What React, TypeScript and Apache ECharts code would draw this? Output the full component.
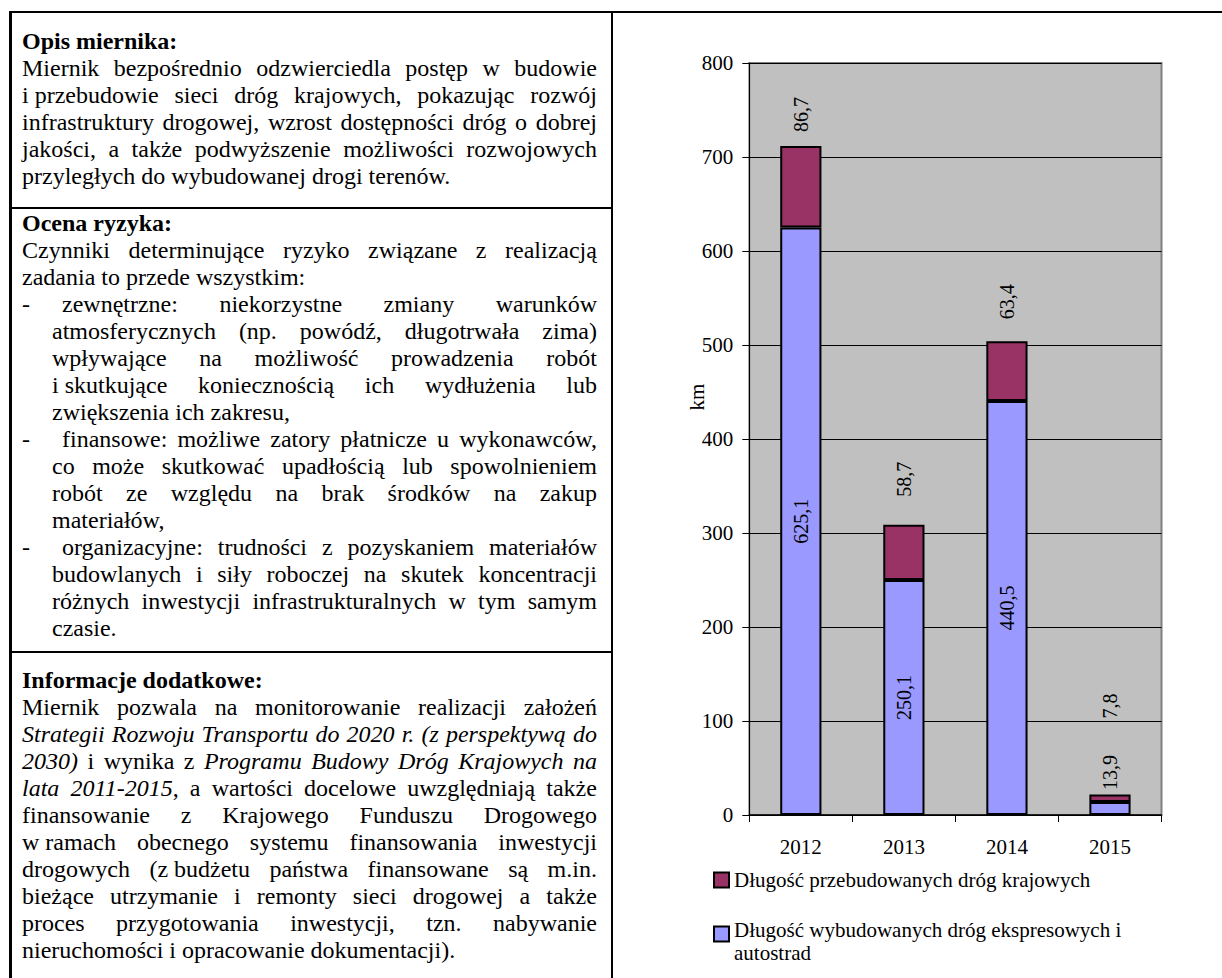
import React, { useEffect, useRef } from "react";
import * as echarts from "echarts";

// ---------- chart data ----------
const years = ["2012", "2013", "2014", "2015"];
const builtKm = [625.1, 250.1, 440.5, 13.9];
const rebuiltKm = [86.7, 58.7, 63.4, 7.8];
const rebuiltLabelGap = [14, 28, 22, 76];
const builtName = "Długość wybudowanych dróg ekspresowych i\nautostrad";
const rebuiltName = "Długość przebudowanych dróg krajowych";
const yMin = 0;
const yMax = 800;
const yStep = 100;
const axisTitle = "km";

// ---------- text data ----------
// each line: [x of text start, justified?, text, dash?]  (* toggles italics, ~ = fixed space)
type Line = [number, boolean, string, boolean?];
const sec1Title = "Opis miernika:";
const sec1Lines: Line[] = [
  [22, true, "Miernik bezpośrednio odzwierciedla postęp w budowie"],
  [22, true, "i~przebudowie sieci dróg krajowych, pokazując rozwój"],
  [22, true, "infrastruktury drogowej, wzrost dostępności dróg o dobrej"],
  [22, true, "jakości, a także podwyższenie możliwości rozwojowych"],
  [22, false, "przyległych do wybudowanej drogi terenów."],
];
const sec2Title = "Ocena ryzyka:";
const sec2Lines: Line[] = [
  [22, true, "Czynniki determinujące ryzyko związane z realizacją"],
  [22, false, "zadania to przede wszystkim:"],
  [62, true, "zewnętrzne: niekorzystne zmiany warunków", true],
  [52, true, "atmosferycznych (np. powódź, długotrwała zima)"],
  [52, true, "wpływające na możliwość prowadzenia robót"],
  [52, true, "i~skutkujące koniecznością ich wydłużenia lub"],
  [52, false, "zwiększenia ich zakresu,"],
  [62, true, "finansowe: możliwe zatory płatnicze u wykonawców,", true],
  [52, true, "co może skutkować upadłością lub spowolnieniem"],
  [52, true, "robót ze względu na brak środków na zakup"],
  [52, false, "materiałów,"],
  [62, true, "organizacyjne: trudności z pozyskaniem materiałów", true],
  [52, true, "budowlanych i siły roboczej na skutek koncentracji"],
  [52, true, "różnych inwestycji infrastrukturalnych w tym samym"],
  [52, false, "czasie."],
];
const sec3Title = "Informacje dodatkowe:";
const sec3Lines: Line[] = [
  [22, true, "Miernik pozwala na monitorowanie realizacji założeń"],
  [22, true, "*Strategii Rozwoju Transportu do 2020 r. (z perspektywą do*"],
  [22, true, "*2030)* i wynika z *Programu Budowy Dróg Krajowych na*"],
  [22, true, "*lata 2011-2015*, a wartości docelowe uwzględniają także"],
  [22, true, "finansowanie z Krajowego Funduszu Drogowego"],
  [22, true, "w~ramach obecnego systemu finansowania inwestycji"],
  [22, true, "drogowych (z~budżetu państwa finansowane są m.in."],
  [22, true, "bieżące utrzymanie i remonty sieci drogowej a także"],
  [22, true, "proces przygotowania inwestycji, tzn. nabywanie"],
  [22, false, "nieruchomości i opracowanie dokumentacji)."],
];

const FONT = '"Liberation Serif", "Times New Roman", serif';
const TEXT_RIGHT = 597;
const LINE_H = 27;
const DIVIDER_X = 611;

function renderWords(text: string) {
  let italic = false;
  return text.split(" ").map((w, wi) => {
    const parts = w.replace(/~/g, "\u00A0").split("*");
    const nodes: React.ReactNode[] = [];
    parts.forEach((p, pi) => {
      if (pi > 0) italic = !italic;
      if (p) nodes.push(italic ? <i key={pi}>{p}</i> : <span key={pi}>{p}</span>);
    });
    return (
      <span key={wi} style={{ whiteSpace: "pre" }}>
        {nodes}
      </span>
    );
  });
}

function TextLine({ line }: { line: Line }) {
  const [x, justify, text, dash] = line;
  const words = renderWords(text);
  return (
    <div style={{ position: "relative", height: LINE_H, lineHeight: LINE_H + "px" }}>
      {dash && <span style={{ position: "absolute", left: 22 }}>-</span>}
      {justify ? (
        <div
          style={{
            position: "absolute",
            left: x,
            width: TEXT_RIGHT - x,
            display: "flex",
            justifyContent: "space-between",
            whiteSpace: "nowrap",
          }}
        >
          {words}
        </div>
      ) : (
        <div style={{ position: "absolute", left: x, whiteSpace: "nowrap" }}>
          {words.map((w, i) => (
            <React.Fragment key={i}>
              {i > 0 ? " " : ""}
              {w}
            </React.Fragment>
          ))}
        </div>
      )}
    </div>
  );
}

function Section({ top, title, lines }: { top: number; title: string; lines: Line[] }) {
  return (
    <div style={{ position: "absolute", left: 0, top, width: DIVIDER_X, fontSize: 24, color: "#000" }}>
      <div style={{ position: "relative", height: LINE_H, lineHeight: LINE_H + "px" }}>
        <b style={{ position: "absolute", left: 22 }}>{title}</b>
      </div>
      {lines.map((l, i) => (
        <TextLine key={i} line={l} />
      ))}
    </div>
  );
}

const fmt = (v: number) => String(v).replace(".", ",");

export default function App() {
  const ref = useRef<HTMLDivElement>(null);
  useEffect(() => {
    const chart = echarts.init(ref.current!, null, { renderer: "svg" });
    const plotLeft = 749.3;
    const plotRight = 1161.5;
    const plotTop = 63;
    const plotBottom = 815;
    const legendText = { fontFamily: FONT, fontSize: 21, color: "#000", lineHeight: 23 };
    chart.setOption({
      animation: false,
      grid: {
        left: plotLeft,
        right: 1222 - plotRight,
        top: plotTop,
        bottom: 978 - plotBottom,
        show: true,
        backgroundColor: "#c0c0c0",
        borderColor: "#808080",
        borderWidth: 2,
        containLabel: false,
        outerBoundsMode: "none",
      },
      xAxis: {
        type: "category",
        data: years,
        axisLine: { show: true, lineStyle: { color: "#000", width: 1.5 } },
        axisTick: { show: true, length: 7, lineStyle: { color: "#000", width: 1 } },
        axisLabel: { color: "#000", fontFamily: FONT, fontSize: 21, margin: 21 },
        splitLine: { show: false },
      },
      yAxis: {
        type: "value",
        min: yMin,
        max: yMax,
        interval: yStep,
        axisLine: { show: true, lineStyle: { color: "#000", width: 1 } },
        axisTick: { show: true, length: 7, lineStyle: { color: "#000", width: 1 } },
        axisLabel: { color: "#000", fontFamily: FONT, fontSize: 21, margin: 16 },
        splitLine: { show: true, lineStyle: { color: "#000", width: 1 } },
      },
      legend: [
        {
          orient: "vertical",
          left: 713,
          top: 868.5,
          padding: 0,
          itemWidth: 15,
          itemHeight: 15,
          icon: "rect",
          selectedMode: false,
          textStyle: legendText,
          data: [{ name: rebuiltName }],
        },
        {
          orient: "vertical",
          left: 713,
          top: 911,
          padding: 0,
          itemWidth: 15,
          itemHeight: 15,
          icon: "rect",
          selectedMode: false,
          textStyle: {
            ...legendText,
            rich: {
              l1: { fontFamily: FONT, fontSize: 21, color: "#000", lineHeight: 38 },
              l2: { fontFamily: FONT, fontSize: 21, color: "#000", lineHeight: 8 },
            },
          },
          formatter: (name: string) => {
            const parts = name.split("\n");
            return `{l1|${parts[0]}}\n{l2|${parts[1] || ""}}`;
          },
          data: [{ name: builtName }],
        },
      ],
      graphic: [
        {
          type: "text",
          x: 697,
          y: 397,
          rotation: Math.PI / 2,
          style: {
            text: axisTitle,
            fontFamily: FONT,
            fontSize: 21,
            fill: "#000",
            align: "center",
            verticalAlign: "middle",
          },
        },
      ],
      series: [
        {
          name: builtName,
          type: "bar",
          stack: "total",
          barWidth: "40%",
          itemStyle: { color: "#9999ff", borderColor: "#000", borderWidth: 2 },
          label: {
            show: true,
            position: "inside",
            rotate: 90,
            fontFamily: FONT,
            fontSize: 20,
            color: "#000",
            formatter: (p: any) => fmt(p.value),
          },
          data: builtKm.map((v, i) =>
            i === builtKm.length - 1
              ? { value: v, label: { position: "top", align: "left", verticalAlign: "middle", distance: 12 } }
              : v
          ),
        },
        {
          name: rebuiltName,
          type: "bar",
          stack: "total",
          barWidth: "40%",
          itemStyle: { color: "#993366", borderColor: "#000", borderWidth: 2 },
          label: {
            show: true,
            position: "top",
            rotate: 90,
            align: "left",
            verticalAlign: "middle",
            fontFamily: FONT,
            fontSize: 20,
            color: "#000",
            formatter: (p: any) => fmt(p.value),
          },
          data: rebuiltKm.map((v, i) => ({ value: v, label: { distance: rebuiltLabelGap[i] } })),
        },
      ],
    });
    return () => chart.dispose();
  }, []);

  const B = 2.3;
  return (
    <div
      style={{
        position: "absolute",
        left: 0,
        top: 0,
        width: 1222,
        height: 978,
        overflow: "hidden",
        background: "#fff",
        fontFamily: FONT,
      }}
    >
      <div ref={ref} style={{ position: "absolute", left: 0, top: 0, width: 1222, height: 978 }} />
      {/* table borders */}
      <div style={{ position: "absolute", left: 9.3, top: 11, width: 1222, height: B, background: "#000" }} />
      <div style={{ position: "absolute", left: 9.3, top: 11, width: B, height: 978, background: "#000" }} />
      <div style={{ position: "absolute", left: DIVIDER_X, top: 11, width: B, height: 978, background: "#000" }} />
      <div style={{ position: "absolute", left: 9.3, top: 207, width: DIVIDER_X - 9.3, height: B, background: "#000" }} />
      <div style={{ position: "absolute", left: 9.3, top: 651, width: DIVIDER_X - 9.3, height: B, background: "#000" }} />
      <Section top={43 - 15} title={sec1Title} lines={sec1Lines} />
      <Section top={225 - 15} title={sec2Title} lines={sec2Lines} />
      <Section top={682 - 15} title={sec3Title} lines={sec3Lines} />
    </div>
  );
}
